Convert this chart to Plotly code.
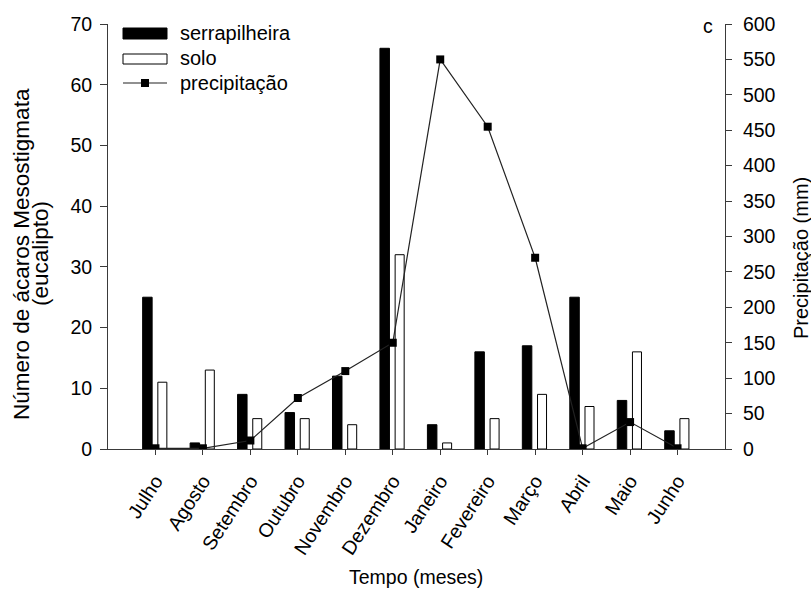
import plotly.graph_objects as go

meses = ["Julho", "Agosto", "Setembro", "Outubro", "Novembro", "Dezembro",
         "Janeiro", "Fevereiro", "Março", "Abril", "Maio", "Junho"]
serrapilheira = [25, 1, 9, 6, 12, 66, 4, 16, 17, 25, 8, 3]
solo = [11, 13, 5, 5, 4, 32, 1, 5, 9, 7, 16, 5]
precipitacao = [1, 1, 12, 72, 110, 150, 550, 455, 270, 1, 38, 1]

left_ticks = list(range(0, 71, 10))
right_ticks = list(range(0, 601, 50))

pos = list(range(len(meses)))
FONT = "Liberation Sans, Arial, sans-serif"
AX = "#3a3a3a"
FS = 19.5

fig = go.Figure()
fig.add_trace(go.Bar(x=pos, y=serrapilheira, name="serrapilheira",
                     marker=dict(color="black", line=dict(color="black", width=1)),
                     width=0.2, offset=-0.27, showlegend=False))
fig.add_trace(go.Bar(x=pos, y=solo, name="solo",
                     marker=dict(color="white", line=dict(color="black", width=1)),
                     width=0.19, offset=0.05, showlegend=False))
fig.add_trace(go.Scatter(x=pos, y=precipitacao, name="precipitação", yaxis="y2",
                         mode="lines+markers",
                         line=dict(color="#222", width=1.2),
                         marker=dict(symbol="square", size=8, color="black"),
                         showlegend=False))

# pixel -> paper helpers
px0, px1 = 108, 725
py0, py1 = 24, 449
W, H = 811, 592
def fx(x):
    return (x - px0) / (px1 - px0)
def fy(y):
    return (py1 - y) / (py1 - py0)

shapes = [
    dict(type="rect", xref="paper", yref="paper", x0=fx(123), x1=fx(167), y0=fy(39), y1=fy(28),
         fillcolor="black", line=dict(color="black", width=1)),
    dict(type="rect", xref="paper", yref="paper", x0=fx(123), x1=fx(167), y0=fy(64), y1=fy(54),
         fillcolor="white", line=dict(color="black", width=1)),
    dict(type="line", xref="paper", yref="paper", x0=fx(123), x1=fx(167), y0=fy(83), y1=fy(83),
         line=dict(color="#222", width=1.2)),
    dict(type="rect", xref="paper", yref="paper", x0=fx(141), x1=fx(149), y0=fy(87), y1=fy(79),
         fillcolor="black", line=dict(color="black", width=0)),
]

def txt(text, x, y, size=FS, angle=0, xanchor="center"):
    return dict(text=text, xref="paper", yref="paper", x=fx(x), y=fy(y),
                xanchor=xanchor, yanchor="middle", showarrow=False, textangle=angle,
                font=dict(size=size, color="black", family=FONT))

annotations = []
for label, yy in [("serrapilheira", 33), ("solo", 58), ("precipitação", 83)]:
    annotations.append(txt(label, 178, yy, size=20, xanchor="left"))
annotations.append(txt("c", 708, 26))
annotations.append(txt("Tempo (meses)", 416, 577))
annotations.append(txt("Número de ácaros Mesostigmata", 21, 254, size=22.5, angle=-90))
annotations.append(txt("(eucalipto)", 40, 254, size=22.5, angle=-90))
annotations.append(txt("Precipitação (mm)", 801, 258, size=20, angle=-90))

fig.update_layout(
    width=W, height=H,
    margin=dict(l=px0, r=W - px1, t=py0, b=H - py1),
    plot_bgcolor="white", paper_bgcolor="white",
    font=dict(family=FONT, size=FS, color="black"),
    barmode="overlay",
    shapes=shapes, annotations=annotations,
    xaxis=dict(range=[-1, 12], tickmode="array", tickvals=pos, ticktext=meses,
               tickangle=-57, ticks="outside", ticklen=5, tickcolor=AX,
               showline=True, linecolor=AX, linewidth=1, showgrid=False, zeroline=False,
               automargin=False, ticklabelstandoff=7,
               tickfont=dict(size=FS)),
    yaxis=dict(range=[0, 70], tickvals=left_ticks, ticks="outside", ticklen=7,
               tickcolor=AX, showline=True, linecolor=AX, linewidth=1,
               showgrid=False, zeroline=False, ticklabelstandoff=4, automargin=False,
               tickfont=dict(size=FS)),
    yaxis2=dict(range=[0, 600], tickvals=right_ticks, overlaying="y", side="right",
                ticks="outside", ticklen=6, tickcolor=AX, showline=True, linecolor=AX,
                linewidth=1, showgrid=False, zeroline=False, ticklabelstandoff=7,
                automargin=False,
                tickfont=dict(size=FS)),
)

fig.write_html("out.html", config={"displayModeBar": False},
               post_script="document.body.style.margin='0';")
